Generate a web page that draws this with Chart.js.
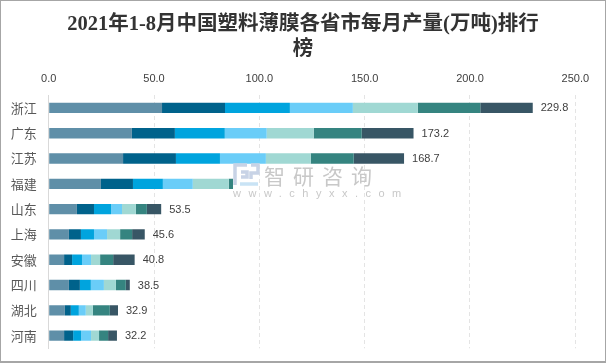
<!DOCTYPE html>
<html>
<head>
<meta charset="utf-8">
<script src="https://cdn.jsdelivr.net/npm/chart.js@4"></script>
<style>
    html, body { margin: 0; padding: 0; background: #fff; }
    #wrap { position: relative; width: 606px; height: 363px; box-sizing: border-box; border: 1px solid #a6a6a6; border-width: 1px 1px 2px 1px; overflow: hidden; }
    canvas { position: absolute; left: 0; top: 0; }
</style>
</head>
<body>
<div id="wrap"><canvas id="chart" width="604" height="360"></canvas></div>
<script>
const provinces = ['浙江', '广东', '江苏', '福建', '山东', '上海', '安徽', '四川', '湖北', '河南'];
const totals = ['229.8', '173.2', '168.7', null, '53.5', '45.6', '40.8', '38.5', '32.9', '32.2'];
const month1 = [53.8, 39.5, 35.3, 24.8, 13.4, 9.6, 7.3, 9.6, 7.7, 7.3];
const month2 = [29.9, 20.4, 25.1, 15.2, 8.1, 5.7, 3.8, 5.2, 2.8, 4.3];
const month3 = [30.8, 23.7, 20.9, 14.2, 8.1, 6.2, 4.7, 5.2, 3.8, 3.8];
const month4 = [29.9, 19.9, 21.8, 14.2, 5.2, 6.2, 4.3, 6.2, 3.3, 4.7];
const month5 = [30.8, 22.3, 21.3, 17.1, 6.6, 6.2, 4.3, 5.7, 3.3, 3.8];
const month6 = [29.7, 22.8, 20.4, 2.0, 5.2, 5.7, 6.2, 4.7, 8.1, 4.3];
const month7 = [24.9, 24.6, 23.9, 0, 6.8, 6.0, 10.2, 1.9, 3.9, 4.2];
const monthColors = ['#5f8fa8', '#00628b', '#00a4de', '#6acdf8', '#a0d8d3', '#358480', '#385665'];

const monthData = [month1, month2, month3, month4, month5, month6, month7];

// total labels at the end of each stacked bar
const totalLabels = {
    id: 'totalLabels',
    afterDatasetsDraw(chart) {
        let ctx = chart.ctx;
        let lastMeta = chart.getDatasetMeta(monthData.length - 1);
        ctx.save();
        ctx.font = '11px "Liberation Sans", "Noto Sans"';
        ctx.fillStyle = '#404040';
        ctx.textAlign = 'left';
        ctx.textBaseline = 'middle';
        totals.forEach((total, i) => {
            if (total !== null) {
                ctx.fillText(total, lastMeta.data[i].x + 8, lastMeta.data[i].y + 0.5);
            }
        });
        ctx.restore();
    }
};

// the right padding would pull the title off centre, so stretch its box to the full width
const centerTitle = {
    id: 'centerTitle',
    afterLayout(chart) {
        chart.titleBlock.right = chart.width;
    }
};

function strokeLogoPath(ctx, color, points) {
    ctx.strokeStyle = color;
    ctx.beginPath();
    points.forEach((p, i) => i === 0 ? ctx.moveTo(p[0], p[1]) : ctx.lineTo(p[0], p[1]));
    ctx.stroke();
}

// chyxx watermark, sits on top of the plot
const watermark = {
    id: 'watermark',
    afterDraw(chart) {
        let ctx = chart.ctx;
        ctx.save();
        ctx.lineWidth = 3.5;
        strokeLogoPath(ctx, '#c8d3e6', [[246, 164], [234, 164], [234, 184]]);
        strokeLogoPath(ctx, '#c8d3e6', [[240, 171], [246, 171], [246, 176], [240, 176]]);
        strokeLogoPath(ctx, '#c8d3e6', [[250, 164], [257, 164], [257, 172], [250, 172], [250, 178]]);
        strokeLogoPath(ctx, '#c9e3f5', [[239, 183], [257, 183]]);
        ctx.fillStyle = '#c8c8c8';
        ctx.font = '21px "Noto Sans CJK SC"';
        ctx.textBaseline = 'middle';
        ctx.textAlign = 'left';
        ctx.letterSpacing = '8px';
        ctx.fillText('智研咨询', 263, 175);
        ctx.font = '11px "Liberation Sans"';
        ctx.letterSpacing = '7.5px';
        ctx.fillText('www.chyxx.com', 232, 193);
        ctx.restore();
    }
};

new Chart(document.getElementById('chart'), {
    type: 'bar',
    data: {
        labels: provinces,
        datasets: monthData.map((values, i) => ({
            label: (i + 1) + '月',
            data: values,
            backgroundColor: monthColors[i],
            barPercentage: 0.41,
            categoryPercentage: 1
        }))
    },
    options: {
        indexAxis: 'y',
        responsive: false,
        animation: false,
        layout: { padding: { left: 0, right: 29.7, top: 0, bottom: 12.7 } },
        plugins: {
            legend: { display: false },
            tooltip: { enabled: false },
            title: {
                display: true,
                text: ['2021年1-8月中国塑料薄膜各省市每月产量(万吨)排行', '榜'],
                color: '#333333',
                font: { family: '"Liberation Serif", "Noto Sans CJK SC"', size: 20.5, weight: 'bold', lineHeight: 1.25 },
                padding: { top: 10.5, bottom: 0 }
            }
        },
        scales: {
            x: {
                position: 'top',
                stacked: true,
                min: 0,
                max: 250,
                afterFit(scale) { scale.height = 32.5; },
                ticks: {
                    stepSize: 50,
                    color: '#404040',
                    font: { family: '"Liberation Sans"', size: 11 },
                    padding: 10,
                    maxRotation: 0,
                    callback: value => value.toFixed(1)
                },
                grid: { color: '#e4e4e4', lineWidth: 1, drawTicks: false },
                border: { display: false, dash: [4, 3] }
            },
            y: {
                stacked: true,
                afterFit(scale) {
                    scale.width = 47.7;
                    // tick padding otherwise eats into the plot height
                    scale.paddingTop = 0;
                    scale.paddingBottom = 0;
                },
                ticks: {
                    color: '#595959',
                    font: { family: '"Noto Sans CJK SC"', size: 13 },
                    padding: 12
                },
                grid: { display: false, drawTicks: false },
                border: { display: true, color: '#d9d9d9', width: 1 }
            }
        }
    },
    plugins: [centerTitle, totalLabels, watermark]
});
</script>
</body>
</html>
